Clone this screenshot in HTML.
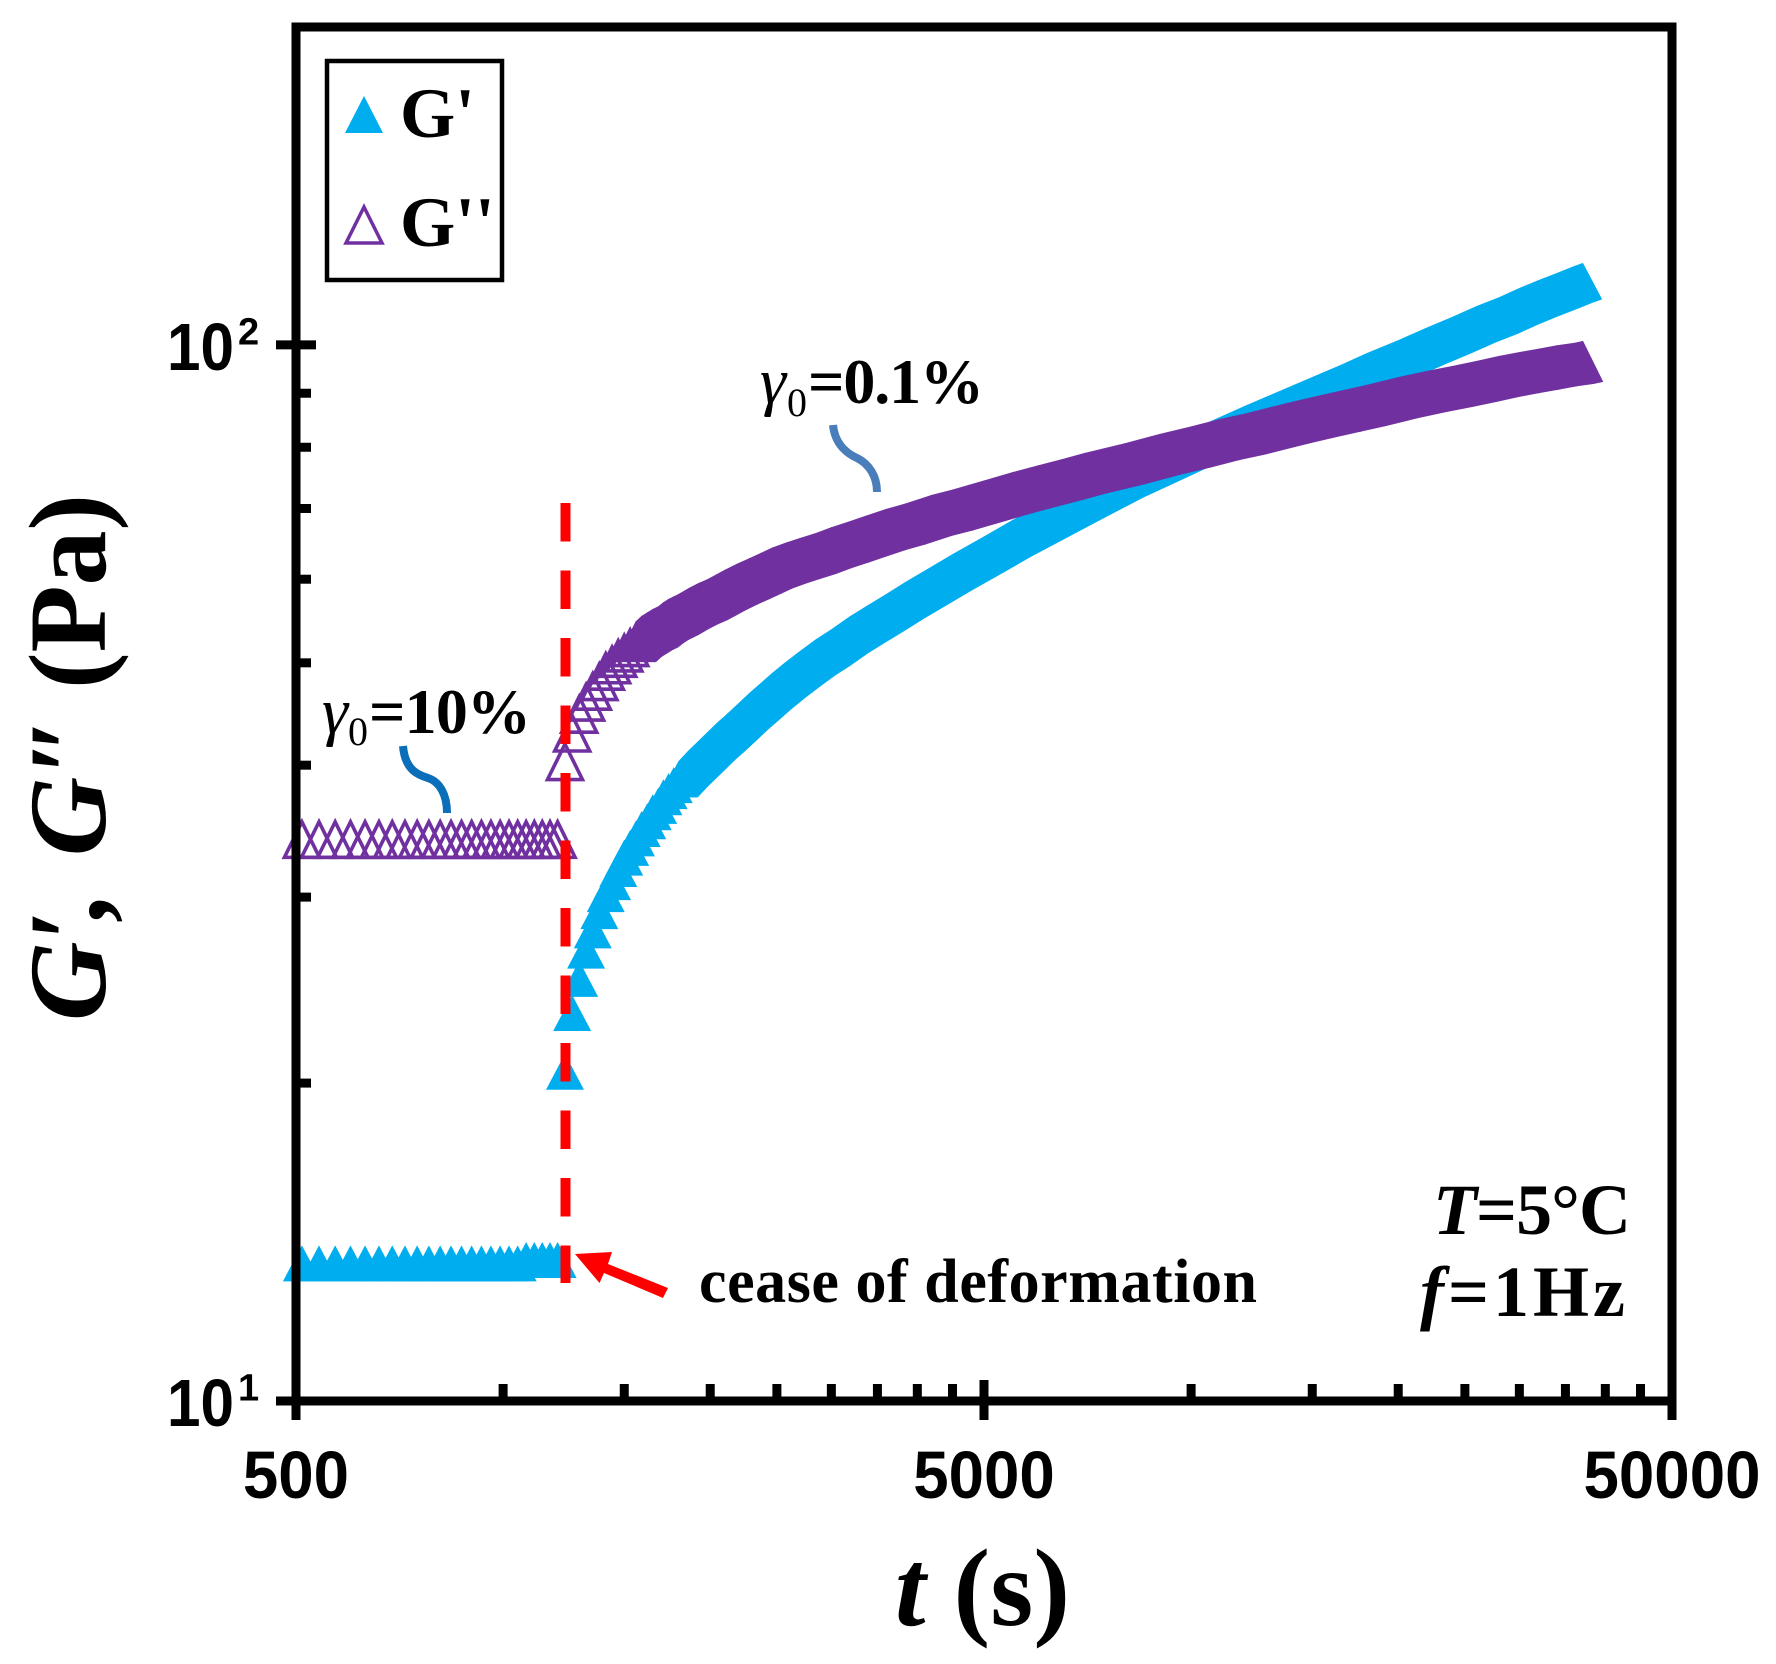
<!DOCTYPE html>
<html lang="en">
<head>
<meta charset="utf-8">
<title>G', G'' versus time</title>
<style>
html,body{margin:0;padding:0;background:#fff;}
svg{display:block;}
text{font-family:"Liberation Serif",serif;font-weight:bold;fill:#000;}
.sans{font-family:"Liberation Sans",sans-serif;font-weight:bold;}
.plain{font-weight:normal;}
</style>
</head>
<body>
<svg id="chart" xmlns="http://www.w3.org/2000/svg" width="1776" height="1664" viewBox="0 0 1776 1664">
  <rect x="0" y="0" width="1776" height="1664" fill="#fff"/>
  <g id="series-layer"></g>
  <g id="axis-layer"></g>

  <line x1="565.5" y1="503" x2="565.5" y2="1283" stroke="#ff0000" stroke-width="10" stroke-dasharray="38.5 29"/>
  <polygon fill="#ff0000" points="575,1254 612,1252 608,1264 668,1288 663,1298 604,1273 599.5,1283"/>
  <text x="699" y="1302" font-size="62" textLength="558" lengthAdjust="spacing">cease of deformation</text>

  <path d="M403,746 C405,770 418,775 428,778 C440,782 447,795 447,813" fill="none" stroke="#0b6eb8" stroke-width="8"/>
  <path d="M833,425 C835,445 848,454 857,458 C869,464 877,476 877,492" fill="none" stroke="#4a7ebb" stroke-width="8"/>

  <g>
    <text class="plain" x="322" y="733" font-size="66" font-style="italic">γ</text>
    <text class="plain" x="348" y="745" font-size="40">0</text>
    <text x="369" y="733" font-size="64" textLength="162" lengthAdjust="spacing">=10%</text>
  </g>
  <g>
    <text class="plain" x="760" y="403" font-size="66" font-style="italic">γ</text>
    <text class="plain" x="787" y="416" font-size="40">0</text>
    <text x="808" y="403" font-size="64" textLength="176" lengthAdjust="spacing">=0.1%</text>
  </g>

  <g>
    <text x="1433" y="1234" font-size="72" textLength="198" lengthAdjust="spacing"><tspan font-style="italic">T</tspan>=5°C</text>
    <text x="1420" y="1316" font-size="72" textLength="205" lengthAdjust="spacing"><tspan font-style="italic">f</tspan>=1Hz</text>
  </g>

  <g>
    <rect x="327" y="61" width="175" height="219" fill="#fff" stroke="#000" stroke-width="4.5"/>
    <polygon points="364,96 345,133 383,133" fill="#00aeef"/>
    <text x="400" y="137" font-size="71">G'</text>
    <polygon points="364,207 346,243 382,243" fill="none" stroke="#7030a0" stroke-width="3.5"/>
    <text x="400" y="246" font-size="71">G''</text>
  </g>

  <text x="895" y="1625" font-size="110" textLength="175" lengthAdjust="spacing"><tspan font-style="italic">t</tspan> (s)</text>
  <text transform="translate(105,1021) rotate(-90)" x="0" y="0" font-size="110" textLength="527" lengthAdjust="spacing"><tspan font-style="italic">G′<tspan dx="-8">,</tspan><tspan dx="8"> G″</tspan></tspan> (Pa)</text>
</svg>
<script>
// Time in seconds for each measured point
const tSeconds = [
  510,540,570,600,630,660,690,720,750,780,810,840,870,900,930,960,990,1020,1050,1080,1110,1140,1170,1200,
  1230,1260,1290,1320,1350,1380,1410,1440,1470,1500,1530,1560,1590,1620,1650,1680,1710,1740,1770,1800,
  1860,1920,1980,2040,2100,2190,2280,2370,2460,2580,2700,2850,3000,3180,3360,3600,3840,4200,4500,5000,
  5500,6000,6500,7000,8000,9000,10000,11000,12000,13000,14000,15000,16500,18000,20000,22000,24000,26000,
  28000,30000,32000,34000,36000,37100
];
// Storage modulus G' (Pa)
const gPrime = [
  13.5,13.5,13.5,13.5,13.5,13.5,13.5,13.5,13.5,13.5,13.5,13.5,13.5,13.5,13.5,13.5,13.5,13.5,13.5,13.6,13.6,13.6,13.6,13.6,
  20.5,23.3,25.1,26.7,27.9,29.1,30.2,31.0,31.9,32.7,33.4,34.1,34.8,35.4,36.1,36.6,37.3,37.8,38.3,38.8,
  39.7,40.5,41.3,42.1,42.8,43.9,45.0,46.0,47.0,48.2,49.3,50.6,51.7,53.1,54.3,55.8,57.3,59.3,60.9,63.3,
  65.6,67.6,69.5,71.3,74.6,77.3,79.8,82.1,84.2,86.1,87.9,89.6,92.0,94.4,97.1,99.8,102.2,104.6,
  106.6,108.8,110.7,112.4,114.1,114.9
];
// Loss modulus G'' (Pa)
const gDoublePrime = [
  34.1,34.1,34.1,34.1,34.1,34.1,34.1,34.1,34.1,34.1,34.1,34.1,34.1,34.1,34.1,34.1,34.1,34.1,34.1,34.1,34.1,34.1,34.1,34.1,
  40.4,43.0,44.8,46.0,47.1,48.1,49.2,49.9,50.6,51.2,51.8,52.4,53.0,53.4,53.8,54.1,54.6,55.0,55.3,55.6,
  56.3,56.9,57.4,58.0,58.6,59.4,60.1,60.8,61.5,62.2,62.8,63.5,64.3,65.1,65.9,66.9,67.7,69.0,69.8,71.2,
  72.5,73.6,74.6,75.6,77.2,78.8,80.1,81.4,82.4,83.5,84.5,85.4,86.6,87.7,89.2,90.4,91.4,92.4,
  93.4,94.2,94.9,95.6,96.1,96.5
];
// Axis ticks
const xMajorTicks = [500,5000,50000];
const xTickLabels = ['500','5000','50000'];
const xMinorTicks = [1000,1500,2000,2500,3000,3500,4000,4500,10000,15000,20000,25000,30000,35000,40000,45000];
const yMajorTicks = [10,100];
const yTickBases = ['10','10'];
const yTickExponents = ['1','2'];
const yMinorTicks = [20,30,40,50,60,70,80,90];

const PLOT_LEFT = 296, PLOT_RIGHT = 1672, PLOT_TOP = 27, PLOT_BOTTOM = 1401;
const X_MIN = 500, X_MAX = 50000, Y_MIN = 10, Y_MAX = 200;
const NS = 'http://www.w3.org/2000/svg';

function xScale(t) {
  return PLOT_LEFT + (PLOT_RIGHT - PLOT_LEFT) * Math.log10(t / X_MIN) / Math.log10(X_MAX / X_MIN);
}
function yScale(v) {
  return PLOT_BOTTOM - (PLOT_BOTTOM - PLOT_TOP) * Math.log10(v / Y_MIN) / Math.log10(Y_MAX / Y_MIN);
}
function svgEl(tag, parent, geometry) {
  const el = document.createElementNS(NS, tag);
  for (const key in geometry) el.setAttribute(key, geometry[key]);
  parent.appendChild(el);
  return el;
}

const seriesLayer = document.getElementById('series-layer');
const axisLayer = document.getElementById('axis-layer');

function drawSeries(values, name, shape) {
  const group = svgEl('g', seriesLayer, {});
  
  
  const top = [], bottom = [];
  let first = null;
  tSeconds.forEach(function (t, i) {
    if (t < shape.bandFrom) return;
    const x = xScale(t), y = yScale(values[i]);
    if (first === null) first = (x - shape.bandHalf) + ',' + (y + shape.bandBase);
    top.push(x + ',' + (y - shape.bandApex));
    bottom.unshift((x + shape.bandHalf) + ',' + (y + shape.bandBase));
  });
  const band = svgEl('polygon', group, {
    points: [first].concat(top, bottom).join(' '),
    fill: shape.color,
    stroke: shape.color,
    'stroke-width': 0.5
  });
  
  
  tSeconds.forEach(function (t, i) {
    const x = xScale(t), y = yScale(values[i]);
    const pts = x + ',' + (y - shape.apex) + ' ' + (x - shape.half) + ',' + (y + shape.base) + ' ' + (x + shape.half) + ',' + (y + shape.base);
    const mark = svgEl('polygon', group, {
      points: pts,
      fill: shape.filled ? shape.color : 'none',
      stroke: shape.filled ? 'none' : shape.color,
      'stroke-width': shape.filled ? 0 : 3.6
    });
    
    
  });
}

drawSeries(gPrime, 'g-prime', {
  color: '#00aeef', filled: true, apex: 18, base: 18, half: 19,
  bandApex: 18, bandBase: 18, bandHalf: 19, bandFrom: 1800
});
drawSeries(gDoublePrime, 'g-double-prime', {
  color: '#7030a0', filled: false, apex: 16.5, base: 19, half: 17.5,
  bandApex: 20, bandBase: 20.5, bandHalf: 20, bandFrom: 1560
});

const frame = svgEl('rect', axisLayer, {
  x: PLOT_LEFT, y: PLOT_TOP, width: PLOT_RIGHT - PLOT_LEFT, height: PLOT_BOTTOM - PLOT_TOP,
  fill: 'none', stroke: '#000', 'stroke-width': 9
});



xMajorTicks.forEach(function (t, i) {
  const x = xScale(t);
  const tick = svgEl('line', axisLayer, {
    x1: x, x2: x, y1: t === 5000 ? 1380 : PLOT_BOTTOM, y2: 1420, stroke: '#000', 'stroke-width': 9
  });
  
  
  const label = svgEl('text', axisLayer, {
    x: x, y: 1498, 'font-size': 67, 'text-anchor': 'middle', class: 'sans',
    textLength: xTickLabels[i].length * 35.4, lengthAdjust: 'spacingAndGlyphs'
  });
  label.textContent = xTickLabels[i];
  
  
});
xMinorTicks.forEach(function (t) {
  const x = xScale(t);
  const tick = svgEl('line', axisLayer, {
    x1: x, x2: x, y1: 1384, y2: PLOT_BOTTOM, stroke: '#000', 'stroke-width': 9
  });
  
  
});
yMajorTicks.forEach(function (v, i) {
  const y = yScale(v);
  const tick = svgEl('line', axisLayer, {
    x1: 276, x2: 316, y1: y, y2: y, stroke: '#000', 'stroke-width': 9
  });
  
  
  const label = svgEl('text', axisLayer, {
    x: 234, y: y + 25, 'font-size': 67, 'text-anchor': 'end', class: 'sans',
    textLength: 67, lengthAdjust: 'spacingAndGlyphs'
  });
  label.textContent = yTickBases[i];
  
  
  const exponent = svgEl('text', axisLayer, {
    x: 238, y: y - 0.5, 'font-size': 38, class: 'sans'
  });
  exponent.textContent = yTickExponents[i];
  
  
});
yMinorTicks.forEach(function (v) {
  const y = yScale(v);
  const tick = svgEl('line', axisLayer, {
    x1: PLOT_LEFT, x2: 311, y1: y, y2: y, stroke: '#000', 'stroke-width': 9
  });
  
  
});
</script>
</body>
</html>
